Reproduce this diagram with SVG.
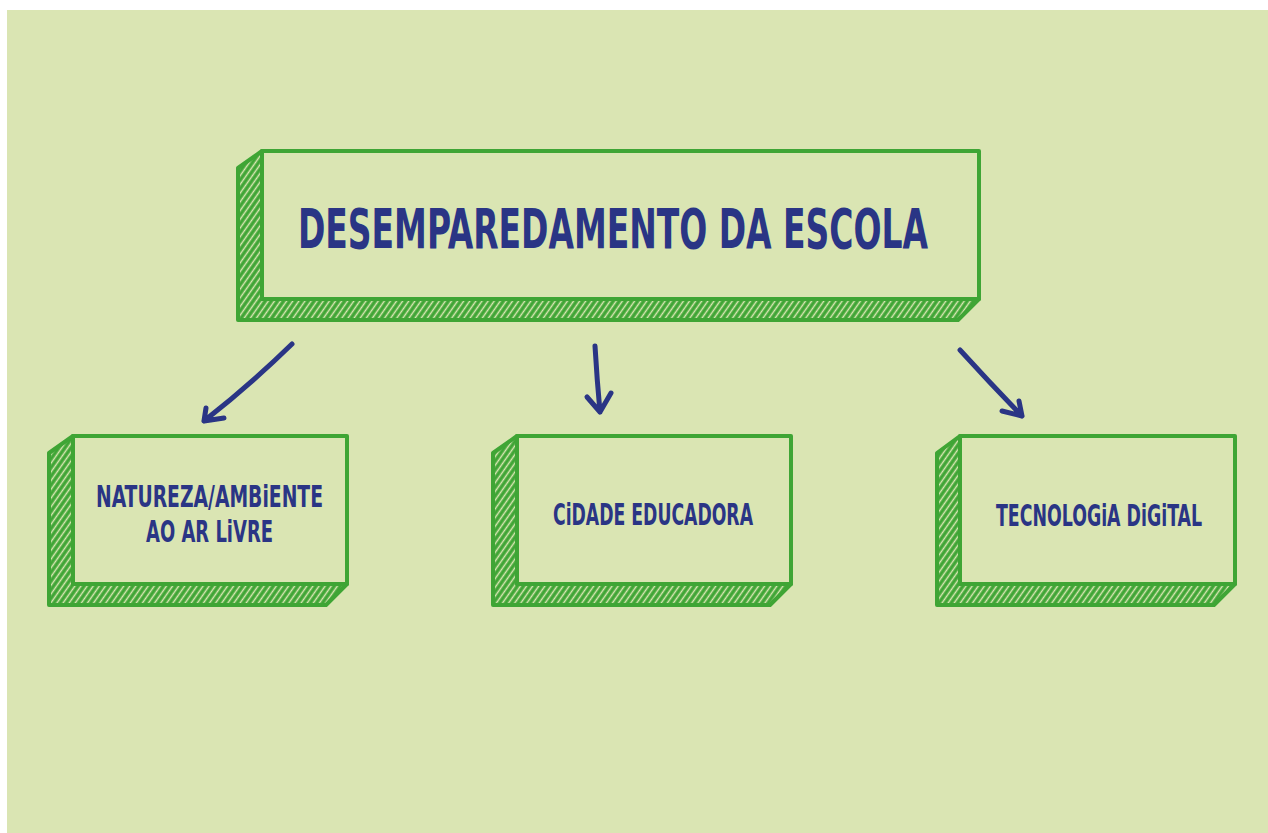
<svg xmlns="http://www.w3.org/2000/svg" width="1268" height="833" viewBox="0 0 1268 833">
<defs>
<pattern id="hatch" patternUnits="userSpaceOnUse" width="5" height="8" patternTransform="rotate(35)">
<rect width="5" height="8" fill="#3fa535"/>
<line x1="2.5" y1="0" x2="2.5" y2="8" stroke="#dbe7b4" stroke-width="1.5"/>
</pattern>
<style>
.side{fill:url(#hatch);stroke:#3fa535;stroke-width:4;stroke-linejoin:round}
.front{fill:#dae5b3;stroke:#3fa535;stroke-width:4;stroke-linejoin:round}
.t{font-family:"DejaVu Sans Condensed","DejaVu Sans",sans-serif;font-weight:bold;fill:#2a3585;text-anchor:middle}
.arrow{fill:none;stroke:#2a3585;stroke-width:5;stroke-linecap:round;stroke-linejoin:round}
</style>
</defs>
<rect x="7" y="10" width="1261" height="823" fill="#dae5b3"/>
<g id="node-main">
<polygon class="side" points="262,151 238,168 238,320 958,320 979,299 262,299"/>
<rect class="front" x="262" y="151" width="717" height="148"/>
<text class="t" x="613" y="248" font-size="56" textLength="630" lengthAdjust="spacingAndGlyphs">DESEMPAREDAMENTO DA ESCOLA</text>
</g>
<g id="node-natureza">
<polygon class="side" points="73,436 49,453 49,605 326,605 347,584 73,584"/>
<rect class="front" x="73" y="436" width="274" height="148"/>
<text class="t" x="209.5" y="507" font-size="31" textLength="227" lengthAdjust="spacingAndGlyphs">NATUREZA/AMBiENTE</text>
<text class="t" x="209.5" y="542" font-size="31" textLength="127" lengthAdjust="spacingAndGlyphs">AO AR LiVRE</text>
</g>
<g id="node-cidade">
<polygon class="side" points="517,436 493,453 493,605 770,605 791,584 517,584"/>
<rect class="front" x="517" y="436" width="274" height="148"/>
<text class="t" x="653" y="525" font-size="31" textLength="200" lengthAdjust="spacingAndGlyphs">CiDADE EDUCADORA</text>
</g>
<g id="node-tecnologia">
<polygon class="side" points="960,436 937,453 937,605 1214,605 1235,584 960,584"/>
<rect class="front" x="960" y="436" width="275" height="148"/>
<text class="t" x="1099" y="526" font-size="30" textLength="206" lengthAdjust="spacingAndGlyphs">TECNOLOGiA DiGiTAL</text>
</g>
<g id="connectors">
<path class="arrow" d="M292,344 Q250,385 204,421 M206,408 L204,421 L224,418"/>
<path class="arrow" d="M595,346 Q597,380 600,412 M587,397 L600,412 L611,393"/>
<path class="arrow" d="M960,350 Q990,383 1022,416 M1002,411 L1022,416 L1019,401"/>
</g>
</svg>
